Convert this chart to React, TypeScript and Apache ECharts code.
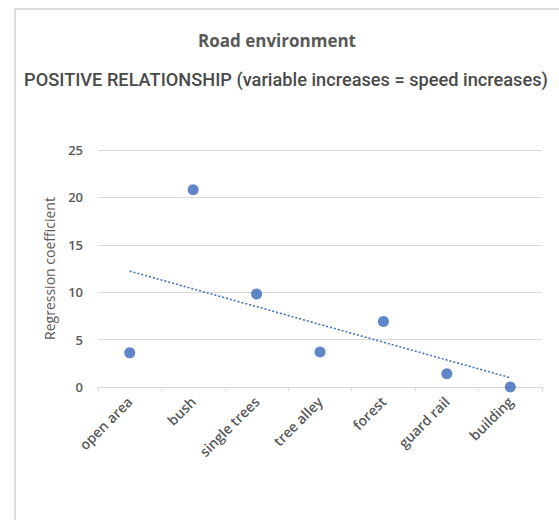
import React, { useEffect, useRef } from "react";
import * as echarts from "echarts";

const categories = ["open area", "bush", "single trees", "tree alley", "forest", "guard rail", "building"];
const coefficients = [3.6, 20.8, 9.8, 3.7, 6.9, 1.4, 0];
const yTicks = [0, 5, 10, 15, 20, 25];

const titleText = "Road environment";
const subtitleText = "POSITIVE RELATIONSHIP (variable increases = speed increases)";
const yAxisName = "Regression coefficient";

// linear trendline (least squares) of the coefficients over category index
function trendline(values: number[]): number[] {
  const n = values.length;
  const xs = values.map((_, i) => i + 1);
  const mx = xs.reduce((a, b) => a + b, 0) / n;
  const my = values.reduce((a, b) => a + b, 0) / n;
  let num = 0;
  let den = 0;
  for (let i = 0; i < n; i++) {
    num += (xs[i] - mx) * (values[i] - my);
    den += (xs[i] - mx) * (xs[i] - mx);
  }
  const slope = num / den;
  return xs.map((x) => +(my + slope * (x - mx)).toFixed(3));
}

const BLUE = "#4472C4";
const GRAY = "#595959";
const FONT = "'Open Sans', sans-serif";

export default function App() {
  const ref = useRef<HTMLDivElement>(null);
  useEffect(() => {
    if (!ref.current) return;
    const chart = echarts.init(ref.current, undefined, { renderer: "svg" });
    chart.setOption({
      animation: false,
      backgroundColor: "#ffffff",
      textStyle: { fontFamily: FONT },
      graphic: [
        {
          type: "rect",
          shape: { x: 15, y: 9, width: 560, height: 530 },
          style: { fill: "none", stroke: "#dcdcdc", lineWidth: 2 },
          silent: true,
        },
        {
          type: "text",
          x: 277,
          y: 40,
          style: {
            text: titleText,
            fill: GRAY,
            font: "bold 17px 'Open Sans', sans-serif",
            textAlign: "center",
            textVerticalAlign: "middle",
          },
        },
        {
          type: "text",
          x: 286,
          y: 79,
          style: {
            text: subtitleText,
            fill: "#4a4a4a",
            font: "500 18.2px 'Roboto', sans-serif",
            textAlign: "center",
            textVerticalAlign: "middle",
          },
        },
      ],
      grid: { left: 98, right: 17, top: 150, bottom: 133 },
      xAxis: {
        type: "category",
        data: categories,
        boundaryGap: true,
        axisLine: { lineStyle: { color: "#d9d9d9", width: 1 } },
        axisTick: { show: true, length: 4, lineStyle: { color: "#d9d9d9" } },
        axisLabel: {
          rotate: 45,
          color: GRAY,
          fontSize: 14,
          fontWeight: 600,
          fontFamily: FONT,
          margin: 12,
          interval: 0,
        },
        splitLine: { show: false },
      },
      yAxis: {
        type: "value",
        min: yTicks[0],
        max: yTicks[yTicks.length - 1],
        interval: 5,
        name: yAxisName,
        nameLocation: "middle",
        nameGap: 42,
        nameRotate: 90,
        nameTextStyle: { color: GRAY, fontSize: 14, fontFamily: FONT },
        axisLine: { show: false },
        axisTick: { show: false },
        axisLabel: { color: GRAY, fontSize: 13, fontWeight: 600, fontFamily: FONT, margin: 15 },
        splitLine: { lineStyle: { color: "#d9d9d9", width: 1 } },
      },
      series: [
        {
          type: "line",
          data: trendline(coefficients),
          symbol: "none",
          lineStyle: { color: BLUE, width: 1.6, type: [2, 2] },
          silent: true,
          z: 1,
        },
        {
          type: "scatter",
          data: coefficients,
          symbol: "circle",
          symbolSize: 11,
          itemStyle: { color: "#3a66bb" },
          clip: false,
          z: 2,
        },
      ],
    });
    return () => chart.dispose();
  }, []);
  return (
    <div
      ref={ref}
      style={{ position: "fixed", left: 0, top: 0, width: 559, height: 520 }}
    />
  );
}
